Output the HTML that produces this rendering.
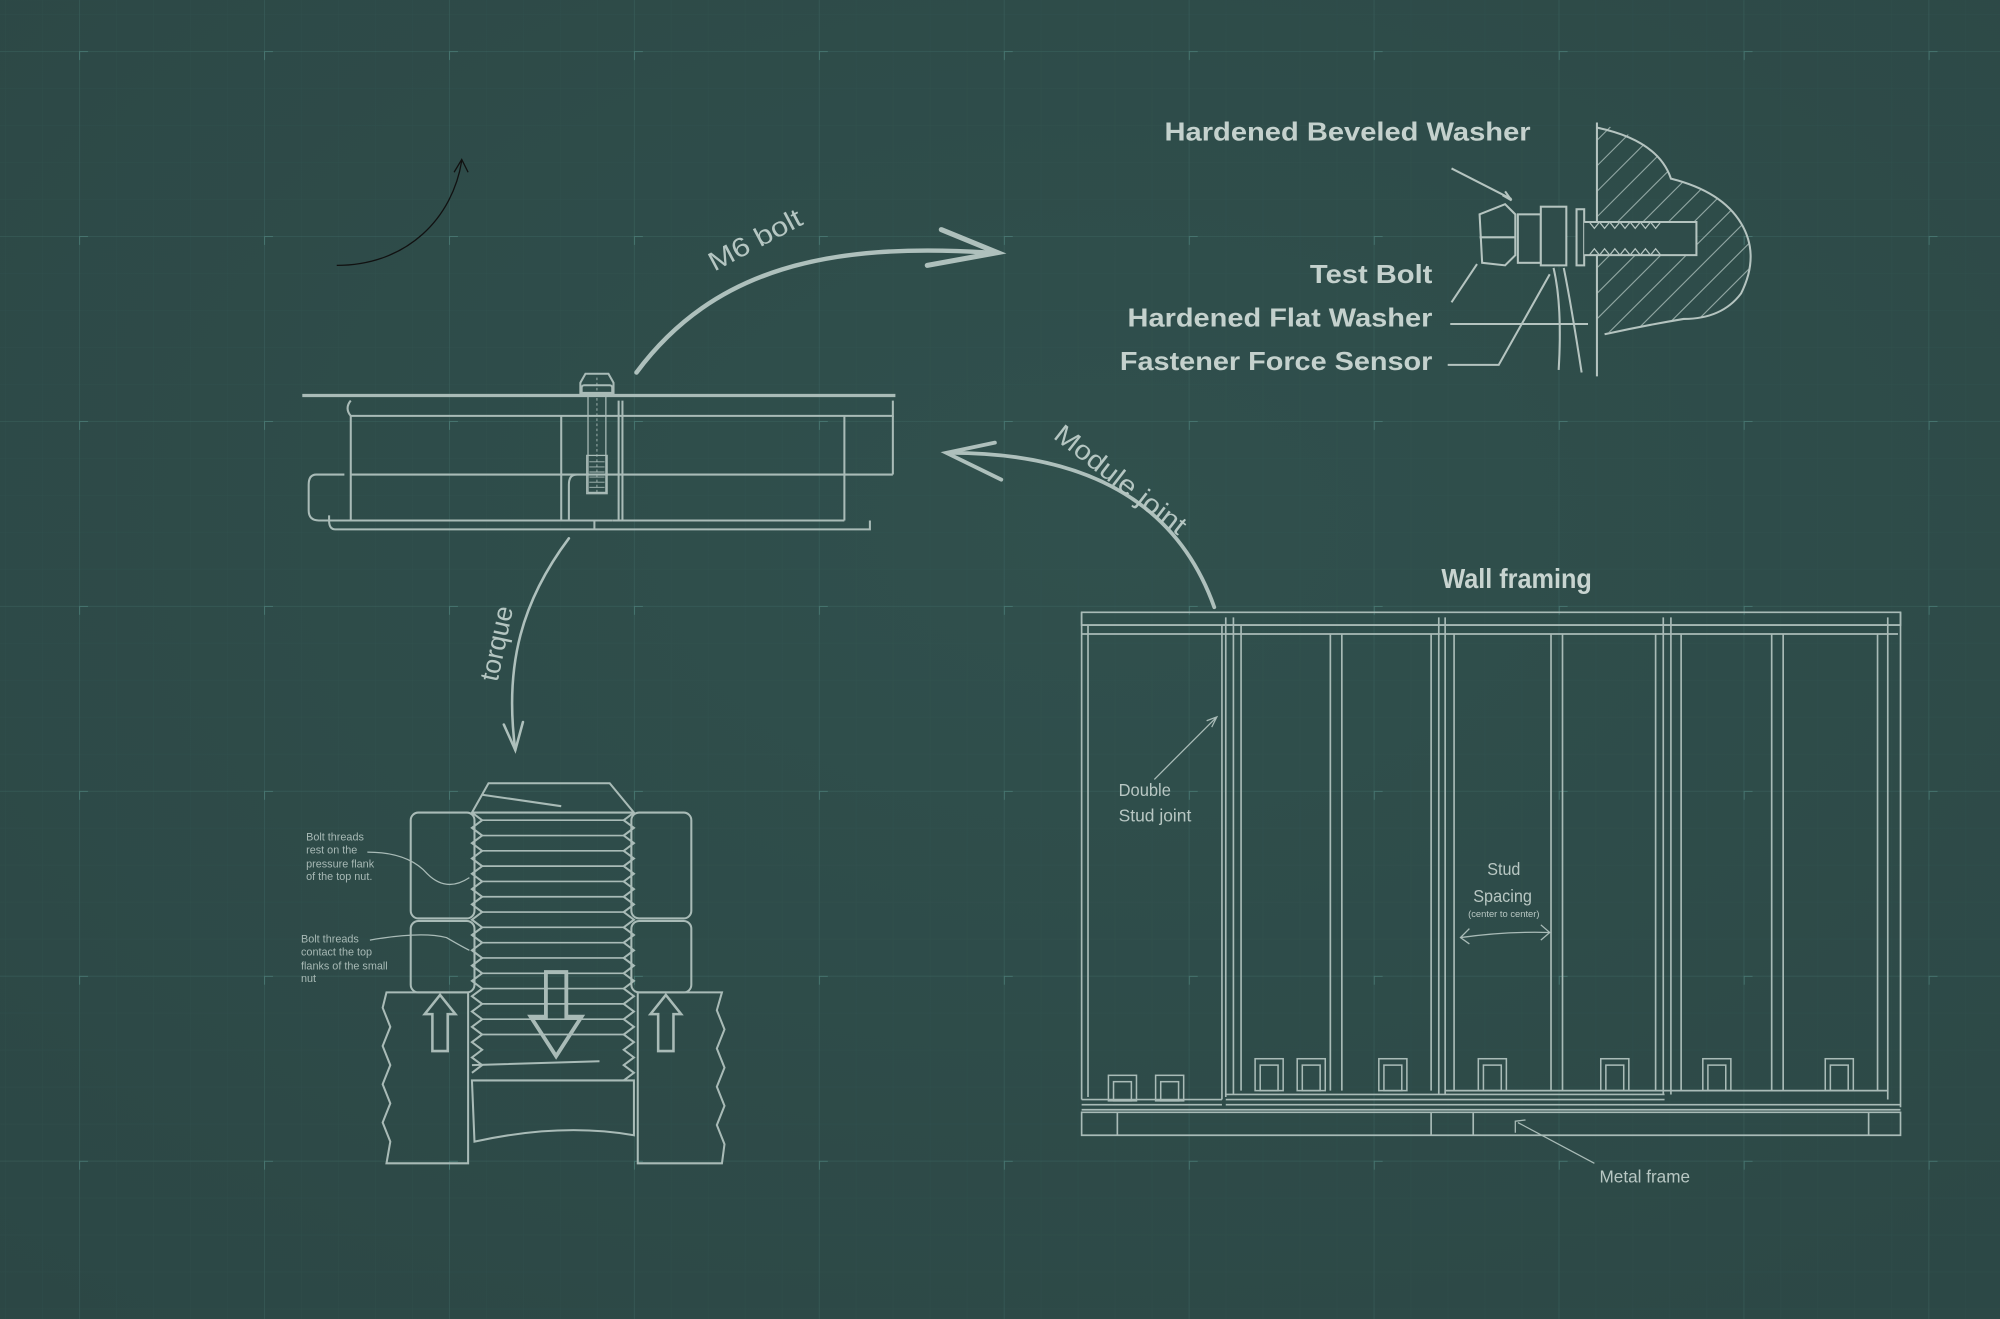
<!DOCTYPE html>
<html><head><meta charset="utf-8">
<style>
html,body{margin:0;padding:0;background:#2f4c4a;}
svg{display:block;}
text{font-family:"Liberation Sans",sans-serif;}
</style></head>
<body>
<svg width="2000" height="1319" viewBox="0 0 1568 1034" xmlns="http://www.w3.org/2000/svg">
<defs>
<radialGradient id="bg" cx="55%" cy="40%" r="80%">
<stop offset="0" stop-color="#30504d"/><stop offset="1" stop-color="#2c4745"/>
</radialGradient>
<pattern id="minor" width="29" height="29" patternUnits="userSpaceOnUse" x="62" y="40">
<path d="M0 0H29M0 0V29" stroke="#3a605d" stroke-width="0.5" fill="none" opacity="0.3"/>
</pattern>
<pattern id="major" width="145" height="145" patternUnits="userSpaceOnUse" x="62" y="40">
<path d="M0 0H145M0 0V145" stroke="#3d6763" stroke-width="1" fill="none" opacity="0.6"/>
<path d="M-7 0H7M0 -7V7" stroke="#46746f" stroke-width="1.6" fill="none"/>
</pattern>
<clipPath id="hc"><path d="M1252 96 Q1300 110 1310 140 Q1350 150 1365 175 Q1380 200 1365 230 Q1350 250 1320 250 Q1290 255 1252 262 Z"/></clipPath>
</defs>
<rect width="1568" height="1034" fill="url(#bg)"/>
<rect width="1568" height="1034" fill="url(#minor)"/>
<rect width="1568" height="1034" fill="url(#major)"/>

<g fill="none" stroke="#111" stroke-width="1">
<path d="M264 208 C320 208 355 170 362 126"/>
<path d="M356 135 L362 125 L367 135"/>
</g>

<g fill="none" stroke="#aec0bc" stroke-linecap="round">
<path d="M499 292 C560 210 650 190 775 198" stroke-width="3.5"/>
<path d="M738 180 L782 198 L727 208" stroke-width="4"/>
<path d="M952 476 C925 400 860 355 745 355" stroke-width="3"/>
<path d="M780 347 L742 355 L785 376" stroke-width="3"/>
<path d="M446 422 C410 470 395 520 404 588" stroke-width="2"/>
<path d="M395 568 L404 588 L410 566" stroke-width="2"/>
</g>
<g fill="#b5c6c2" font-size="21">
<text transform="translate(560 213) rotate(-28)" textLength="80" lengthAdjust="spacingAndGlyphs">M6 bolt</text>
<text transform="translate(825 343) rotate(38)" textLength="125" lengthAdjust="spacingAndGlyphs">Module joint</text>
<text transform="translate(390 535) rotate(-78)">torque</text>
</g>

<!-- bolt joint -->
<g fill="none" stroke="#a9bbb7" stroke-width="1.6">
<path d="M237 310 H702" stroke-width="2.5"/>
<path d="M275 314 Q270 320 275 326 H700 V314"/>
<path d="M275 326 V408 M275 372 H700 M662 326 V408 M700 326 V372"/>
<path d="M270 372 H248 Q242 372 242 380 V400 Q242 408 250 408 H480"/>
<path d="M480 408 H662"/>
<path d="M258 408 V404 M258 408 Q258 415 263 415 H682 V408"/>
<path d="M466 408 V415"/>
<path d="M440 326 V408 M485 314 V408 M488 314 V408"/>
<path d="M452 372 Q446 372 446 380 V408"/>
<rect x="456" y="302" width="24" height="8" rx="2"/>
<path d="M459 293 H477 L481 300 V308 H455 V300 Z"/>
<rect x="461" y="310" width="14" height="76" stroke-width="1"/>
<rect x="460" y="357" width="16" height="30" stroke-width="1"/>
<path d="M462 362 H474 M462 366 H474 M462 370 H474 M462 374 H474 M462 378 H474 M462 382 H474" stroke-width="0.7"/>
<path d="M468 296 V386" stroke-dasharray="2 2" stroke-width="0.7"/>
</g>

<!-- washer diagram -->
<g fill="#c4d1cd" font-weight="bold" font-size="20">
<text x="913" y="110" textLength="287" lengthAdjust="spacingAndGlyphs">Hardened Beveled Washer</text>
<text x="1027" y="222" textLength="96" lengthAdjust="spacingAndGlyphs">Test Bolt</text>
<text x="884" y="256" textLength="239" lengthAdjust="spacingAndGlyphs">Hardened Flat Washer</text>
<text x="878" y="290" textLength="245" lengthAdjust="spacingAndGlyphs">Fastener Force Sensor</text>
</g>
<g stroke="#8fa5a1" stroke-width="0.9" clip-path="url(#hc)">
<path d="M1252 110 L1300 62 M1252 130 L1320 62 M1252 150 L1340 62 M1252 170 L1350 72 M1252 190 L1360 82 M1252 210 L1370 92 M1252 230 L1375 107 M1252 250 L1380 122 M1252 270 L1380 142 M1262 280 L1380 162 M1282 280 L1380 182 M1302 280 L1380 202"/>
</g>
<g fill="none" stroke="#b5c4c0" stroke-width="1.6">
<path d="M1138 132 L1185 156"/><path d="M1178 153 L1185 157 L1180 150"/>
<path d="M1138 237 L1158 207"/>
<path d="M1137 254 H1245 M1135 286 H1175 L1215 215"/>
<path d="M1252 96 V295"/>
<path d="M1252 100 Q1300 110 1310 140 Q1350 150 1365 175 Q1380 200 1365 230 Q1350 250 1320 250 Q1290 255 1258 262"/>
<path d="M1160 168 L1180 160 L1188 168 V200 L1180 208 L1162 206 Z"/>
<path d="M1160 186 H1188"/>
<rect x="1190" y="168" width="18" height="38" fill="#2f4c4a"/>
<rect x="1208" y="162" width="20" height="46" fill="#2f4c4a"/>
<rect x="1236" y="164" width="6" height="44" fill="#2f4c4a"/>
<path d="M1242 174 H1330 V200 H1242" fill="#2f4c4a"/>
<path d="M1246 174 l4 5 l4 -5 l4 5 l4 -5 l4 5 l4 -5 l4 5 l4 -5 l4 5 l4 -5 l4 5 l4 -5 l4 5 l4 -5 M1246 200 l4 -5 l4 5 l4 -5 l4 5 l4 -5 l4 5 l4 -5 l4 5 l4 -5 l4 5 l4 -5 l4 5 l4 -5 l4 5" stroke-width="1"/>
<path d="M1218 210 Q1225 240 1222 290 M1226 210 Q1232 240 1240 292"/>
</g>

<!-- thread diagram -->
<g fill="none" stroke="#a9bbb7" stroke-width="1.6">
<path d="M383 614 H478 L497 637 H370 Z"/>
<path d="M378 623 L440 632"/>
<rect x="322" y="637" width="50" height="83" rx="6"/>
<rect x="495" y="637" width="47" height="83" rx="6"/>
<rect x="322" y="722" width="50" height="56" rx="6"/>
<rect x="495" y="722" width="47" height="56" rx="6"/>
<path d="M370 637 l8 6 l-8 6 l8 6 l-8 6 l8 6 l-8 6 l8 6 l-8 6 l8 6 l-8 6 l8 6 l-8 6 l8 6 l-8 6 l8 6 l-8 6 l8 6 l-8 6 l8 6 l-8 6 l8 6 l-8 6 l8 6 l-8 6 l8 6 l-8 6 l8 6 l-8 6 l8 6 l-8 6 l8 6 l-8 6 l8 6 l-8 6"/>
<path d="M497 637 l-8 6 l8 6 l-8 6 l8 6 l-8 6 l8 6 l-8 6 l8 6 l-8 6 l8 6 l-8 6 l8 6 l-8 6 l8 6 l-8 6 l8 6 l-8 6 l8 6 l-8 6 l8 6 l-8 6 l8 6 l-8 6 l8 6 l-8 6 l8 6 l-8 6 l8 6 l-8 6 l8 6 l-8 6 l8 6 l-8 6 l8 6 l-8 6"/>
<path d="M378 643 H489 M378 655 H489 M378 667 H489 M378 679 H489 M378 691 H489 M378 703 H489 M378 715 H489 M378 727 H489 M378 739 H489 M378 751 H489 M378 763 H489 M378 775 H489 M378 787 H489 M378 799 H489 M378 811 H489" stroke-width="1.3"/>
<path d="M370 835 L470 832 M370 847 H497 V890 Q440 880 372 895 Z"/>
<path d="M303 778 H367 V912 H303 L306 895 L300 880 L306 865 L300 850 L306 835 L300 820 L306 805 L300 790 Z"/>
<path d="M500 778 H566 L562 792 L568 807 L562 822 L568 837 L562 852 L568 867 L562 882 L568 897 L566 912 H500 Z"/>
<path d="M339 824 V795 H333 L345 780 L357 795 H351 V824 Z" stroke-width="2"/>
<path d="M516 824 V795 H510 L522 780 L534 795 H528 V824 Z" stroke-width="2"/>
<path d="M428 762 H444 V797 H456 L436 828 L416 797 H428 Z" stroke-width="3"/>
<path d="M288 668 Q320 668 335 685 Q350 700 368 688" stroke-width="1"/>
<path d="M290 737 Q330 730 350 735 Q362 742 368 745" stroke-width="1"/>
</g>
<g fill="#a8b9b5" font-size="8.5">
<text x="240" y="659">Bolt threads</text>
<text x="240" y="669">rest on the</text>
<text x="240" y="680">pressure flank</text>
<text x="240" y="690">of the top nut.</text>
<text x="236" y="739">Bolt threads</text>
<text x="236" y="749">contact the top</text>
<text x="236" y="760">flanks of the small</text>
<text x="236" y="770">nut</text>
</g>

<!-- wall framing -->
<text x="1130" y="461" fill="#c8d4d0" font-size="22" font-weight="bold" textLength="118" lengthAdjust="spacingAndGlyphs">Wall framing</text>
<g fill="none" stroke="#a9bbb7" stroke-width="1.3">
<rect x="848" y="480" width="642" height="10"/>
<path d="M848 490 H1490 M848 497 H1488"/>
<path d="M848 480 V862 M853 490 V860 M958 490 V862 M961 484 V860 M967 484 V858 M973 490 V855"/>
<path d="M1043 497 V855 M1052 497 V855 M1122 497 V855 M1128 484 V858 M1133 484 V858 M1140 497 V855"/>
<path d="M1216 497 V855 M1225 497 V855 M1298 497 V855 M1304 484 V858 M1310 484 V858 M1318 497 V855"/>
<path d="M1389 497 V855 M1398 497 V855 M1472 497 V855 M1480 484 V862 M1490 480 V868"/>
<path d="M848 862 H958 M848 866 H958 M961 858 H1305 M961 862 H1305 M1133 855 H1480"/>
<path d="M961 866 H1490 M848 870 H1490 M848 872 H1490 V890 H848 Z"/>
<path d="M876 872 V890 M1122 872 V890 M1155 872 V890 M1465 872 V890"/>
<g stroke-width="1.2">
<rect x="869" y="843" width="22" height="20"/><rect x="873" y="848" width="14" height="15"/>
<rect x="906" y="843" width="22" height="20"/><rect x="910" y="848" width="14" height="15"/>
<rect x="984" y="830" width="22" height="25"/><rect x="988" y="835" width="14" height="20"/>
<rect x="1017" y="830" width="22" height="25"/><rect x="1021" y="835" width="14" height="20"/>
<rect x="1081" y="830" width="22" height="25"/><rect x="1085" y="835" width="14" height="20"/>
<rect x="1159" y="830" width="22" height="25"/><rect x="1163" y="835" width="14" height="20"/>
<rect x="1255" y="830" width="22" height="25"/><rect x="1259" y="835" width="14" height="20"/>
<rect x="1335" y="830" width="22" height="25"/><rect x="1339" y="835" width="14" height="20"/>
<rect x="1431" y="830" width="22" height="25"/><rect x="1435" y="835" width="14" height="20"/>
</g>
<path d="M905 611 L953 563 M946 565 L954 562 L950 570" stroke-width="1"/>
<path d="M1145 735 Q1180 730 1215 731 M1152 728 L1145 735 L1152 740 M1208 725 L1215 731 L1208 737" stroke-width="1"/>
<path d="M1250 912 L1190 880 M1188 888 L1188 879 L1196 878" stroke-width="1"/>
</g>
<g fill="#b8c7c3" font-size="14">
<text x="877" y="624" textLength="41" lengthAdjust="spacingAndGlyphs">Double</text>
<text x="877" y="644" textLength="57" lengthAdjust="spacingAndGlyphs">Stud joint</text>
<text x="1166" y="686" textLength="26" lengthAdjust="spacingAndGlyphs">Stud</text>
<text x="1155" y="707" textLength="46" lengthAdjust="spacingAndGlyphs">Spacing</text>
<text x="1151" y="719" font-size="7" textLength="56" lengthAdjust="spacingAndGlyphs">(center to center)</text>
<text x="1254" y="927" textLength="71" lengthAdjust="spacingAndGlyphs">Metal frame</text>
</g>
</svg>
</body></html>
